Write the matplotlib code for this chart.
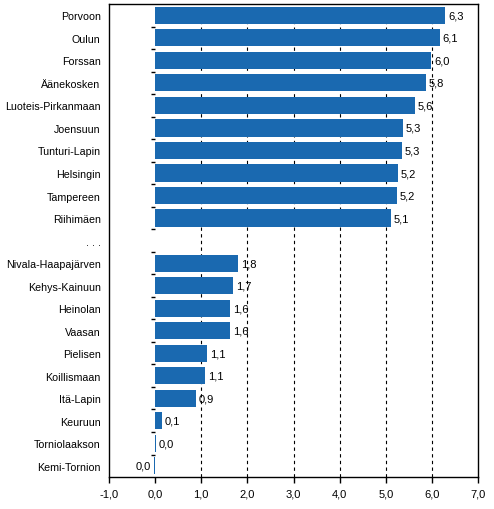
import matplotlib.pyplot as plt
import numpy as np

# regions, top to bottom ("..." is the gap row)
regions = ["Porvoon", "Oulun", "Forssan", "Äänekosken", "Luoteis-Pirkanmaan",
           "Joensuun", "Tunturi-Lapin", "Helsingin", "Tampereen", "Riihimäen",
           ". . .",
           "Nivala-Haapajärven", "Kehys-Kainuun", "Heinolan", "Vaasan",
           "Pielisen", "Koillismaan", "Itä-Lapin", "Keuruun",
           "Torniolaakson", "Kemi-Tornion"]
values = [6.29, 6.17, 5.99, 5.87, 5.64, 5.37, 5.35, 5.26, 5.24, 5.12,
          None,
          1.80, 1.69, 1.63, 1.62, 1.13, 1.08, 0.89, 0.14, 0.01, -0.03]
value_labels = ["6,3", "6,1", "6,0", "5,8", "5,6", "5,3", "5,3", "5,2", "5,2", "5,1",
                "",
                "1,8", "1,7", "1,6", "1,6", "1,1", "1,1", "0,9", "0,1", "0,0", "0,0"]
xticks = [-1, 0, 1, 2, 3, 4, 5, 6, 7]

plt.rcParams['font.family'] = ['Liberation Sans', 'DejaVu Sans']
plt.rcParams['font.size'] = 8

fig = plt.figure(figsize=(4.94, 5.10), dpi=100)
ax = fig.add_axes([0.2207, 0.0627, 0.7469, 0.9273])

y = np.arange(len(regions))
vals = [0 if v is None else v for v in values]
bars = ax.barh(y, vals, height=0.76, color="#1a69b0", zorder=2)
for i, v in enumerate(values):
    if v is None:
        bars[i].set_visible(False)
        continue
    if v < 0:
        ax.text(v - 0.06, i, value_labels[i], ha="right", va="center", fontsize=8)
    else:
        ax.text(v + 0.06, i, value_labels[i], ha="left", va="center", fontsize=8)

ax.set_xlim(-1, 7)
ax.set_ylim(len(regions) - 0.5, -0.5)
ax.set_xticks(xticks)
ax.set_xticklabels([f"{t:.1f}".replace(".", ",") for t in xticks])
ax.set_yticks(y)
ax.set_yticklabels(regions, fontsize=7.7)
ax.tick_params(axis="y", length=0, pad=6)
ax.tick_params(axis="x", length=4, width=1, direction="out", pad=4)

for g in [1, 2, 3, 4, 5, 6]:
    ax.axvline(g, color="black", linestyle=(0, (3, 3)), linewidth=0.8, zorder=1)

for s in ax.spines.values():
    s.set_linewidth(1)

# category separator ticks at the zero line
sec = ax.secondary_yaxis(1 / 8)
sec.set_yticks(np.arange(len(regions) - 1) + 0.5)
sec.set_yticklabels([])
sec.tick_params(axis="y", direction="out", length=3, width=1)
sec.spines["left"].set_visible(False)
sec.spines["right"].set_visible(False)

fig.savefig("out.png", dpi=100)
